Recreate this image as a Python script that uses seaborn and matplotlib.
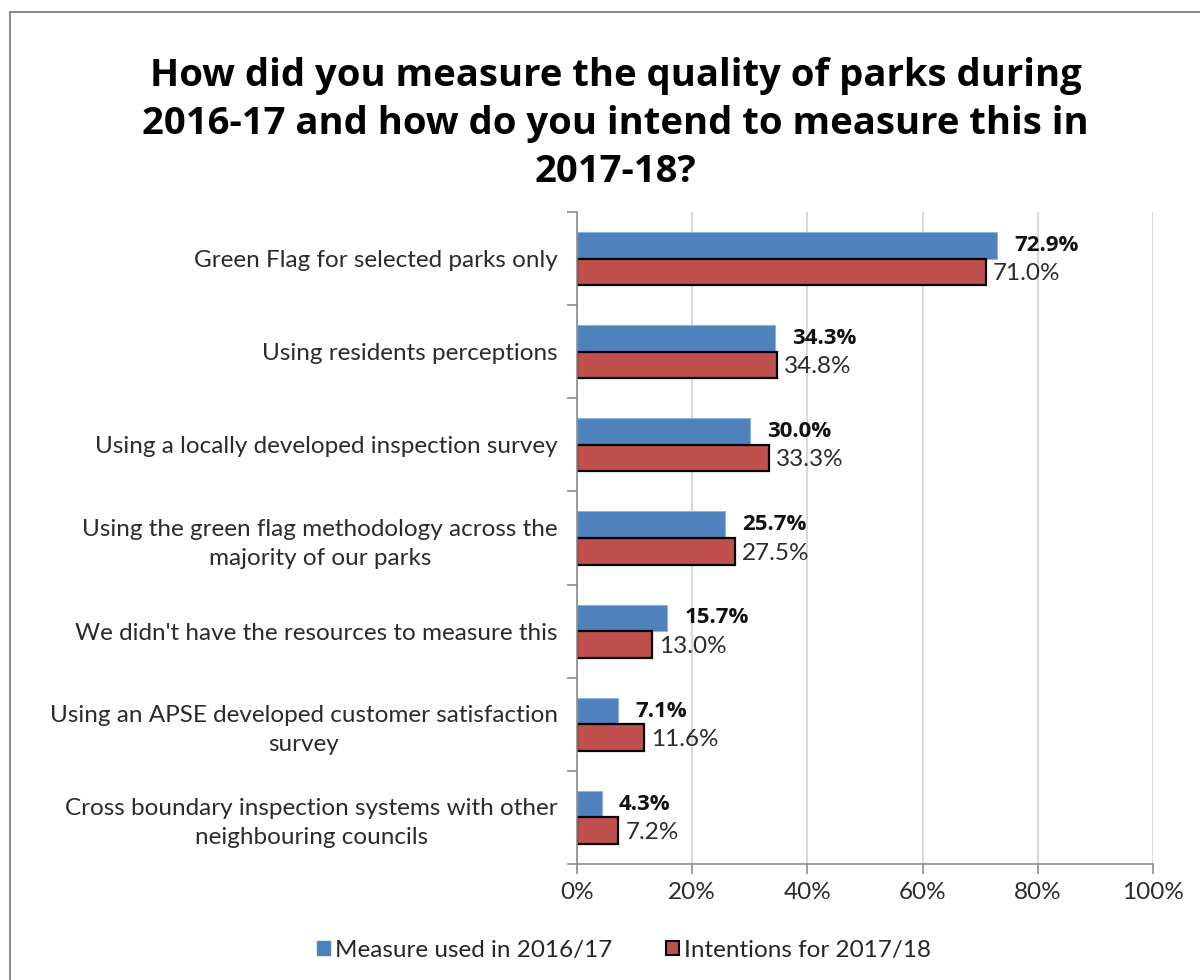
import matplotlib
matplotlib.use("Agg")
import matplotlib.pyplot as plt
import matplotlib.patches as mpatches
import seaborn as sns
import pandas as pd

categories = [
    "Green Flag for selected parks only",
    "Using residents perceptions",
    "Using a locally developed inspection survey",
    "Using the green flag methodology across the\nmajority of our parks",
    "We didn't have the resources to measure this",
    "Using an APSE developed customer satisfaction\nsurvey",
    "Cross boundary inspection systems with other\nneighbouring councils",
]
measure_2016 = [72.9, 34.3, 30.0, 25.7, 15.7, 7.1, 4.3]
intent_2017 = [71.0, 34.8, 33.3, 27.5, 13.0, 11.6, 7.2]
series_names = ["Measure used in 2016/17", "Intentions for 2017/18"]
x_ticks = [0, 20, 40, 60, 80, 100]

df = pd.DataFrame({
    "category": categories * 2,
    "value": measure_2016 + intent_2017,
    "series": [series_names[0]] * len(categories) + [series_names[1]] * len(categories),
})

sns.set_theme(style="white")
plt.rcParams["font.family"] = ["Open Sans", "DejaVu Sans"]

blue = "#4F81BD"
red = "#C0504D"
thin = ["Lato", "DejaVu Sans"]
txt = "#2b2b2b"

fig = plt.figure(figsize=(12, 9.8), dpi=100)
ax = fig.add_axes([577 / 1200, 1 - 864 / 980, 576 / 1200, 652 / 980])

sns.barplot(data=df, y="category", x="value", hue="series", orient="h",
            palette=[blue, red], saturation=1, width=0.57, ax=ax, legend=False)

# style bars per series
n = len(categories)
for i, patch in enumerate(ax.patches[:2 * n]):
    if i < n:
        patch.set_edgecolor("#8DB3E2")
        patch.set_linewidth(0.8)
    else:
        patch.set_edgecolor("black")
        patch.set_linewidth(1.6)

# value labels
values = measure_2016 + intent_2017
for i, patch in enumerate(ax.patches[:2 * n]):
    val = values[i]
    yc = patch.get_y() + patch.get_height() / 2
    if i < n:
        ax.text(val + 3.0, yc, f"{val:.1f}%", va="center", ha="left",
                fontsize=16, fontweight="bold", color="#111111")
    else:
        ax.text(val + 1.2, yc + 0.02, f"{val:.1f}%", va="center", ha="left",
                fontsize=17.5, color=txt, family=thin)

ax.set_xlim(0, 100)
ax.set_ylim(n - 0.5, -0.5)
ax.set_xticks(x_ticks)
ax.set_xticklabels([f"{t}%" for t in x_ticks], fontsize=17.5, color=txt, family=thin)
ax.set_yticks(range(n))
ax.set_yticklabels(categories, fontsize=17.5, color=txt, family=thin,
                   linespacing=1.45, multialignment="center")
ax.set_xlabel("")
ax.set_ylabel("")

ax.grid(axis="x", color="#D9D9D9", linewidth=1.5)
ax.set_axisbelow(True)
for side in ["top", "right"]:
    ax.spines[side].set_visible(False)
for side in ["left", "bottom"]:
    ax.spines[side].set_color("#8C8C8C")
    ax.spines[side].set_linewidth(1.2)

# tick marks: x at gridlines, y at category boundaries
ax.tick_params(axis="x", which="major", bottom=True, length=7, color="#8C8C8C", width=1.2, pad=6)
ax.tick_params(axis="y", which="major", left=False, pad=8)
ax.set_yticks([k - 0.5 for k in range(n + 1)], minor=True)
ax.tick_params(axis="y", which="minor", left=True, length=7, color="#8C8C8C", width=1.2)

fig.text(0.513, 1 - 124 / 980,
         "How did you measure the quality of parks during\n2016-17 and how do you intend to measure this in\n2017-18?",
         ha="center", va="center", fontsize=27.5, fontweight="bold", color="black",
         linespacing=1.36)

handles = [
    mpatches.Patch(facecolor=blue, edgecolor=blue, label=series_names[0]),
    mpatches.Patch(facecolor=red, edgecolor="black", linewidth=1.5, label=series_names[1]),
]
fig.legend(handles=handles, loc="center", bbox_to_anchor=(0.52, 1 - 950 / 980),
           ncol=2, frameon=False, handlelength=0.55, handleheight=0.55,
           handletextpad=0.2, columnspacing=2.2,
           prop={"family": thin, "size": 17.5})

# chart frame
frame = mpatches.Rectangle((10 / 1200, -0.05), 1.2, 1 - 12 / 980 + 0.05,
                           transform=fig.transFigure, fill=False,
                           edgecolor="#8C8C8C", linewidth=1.5)
fig.patches.append(frame)

fig.savefig("out.png", dpi=100)
